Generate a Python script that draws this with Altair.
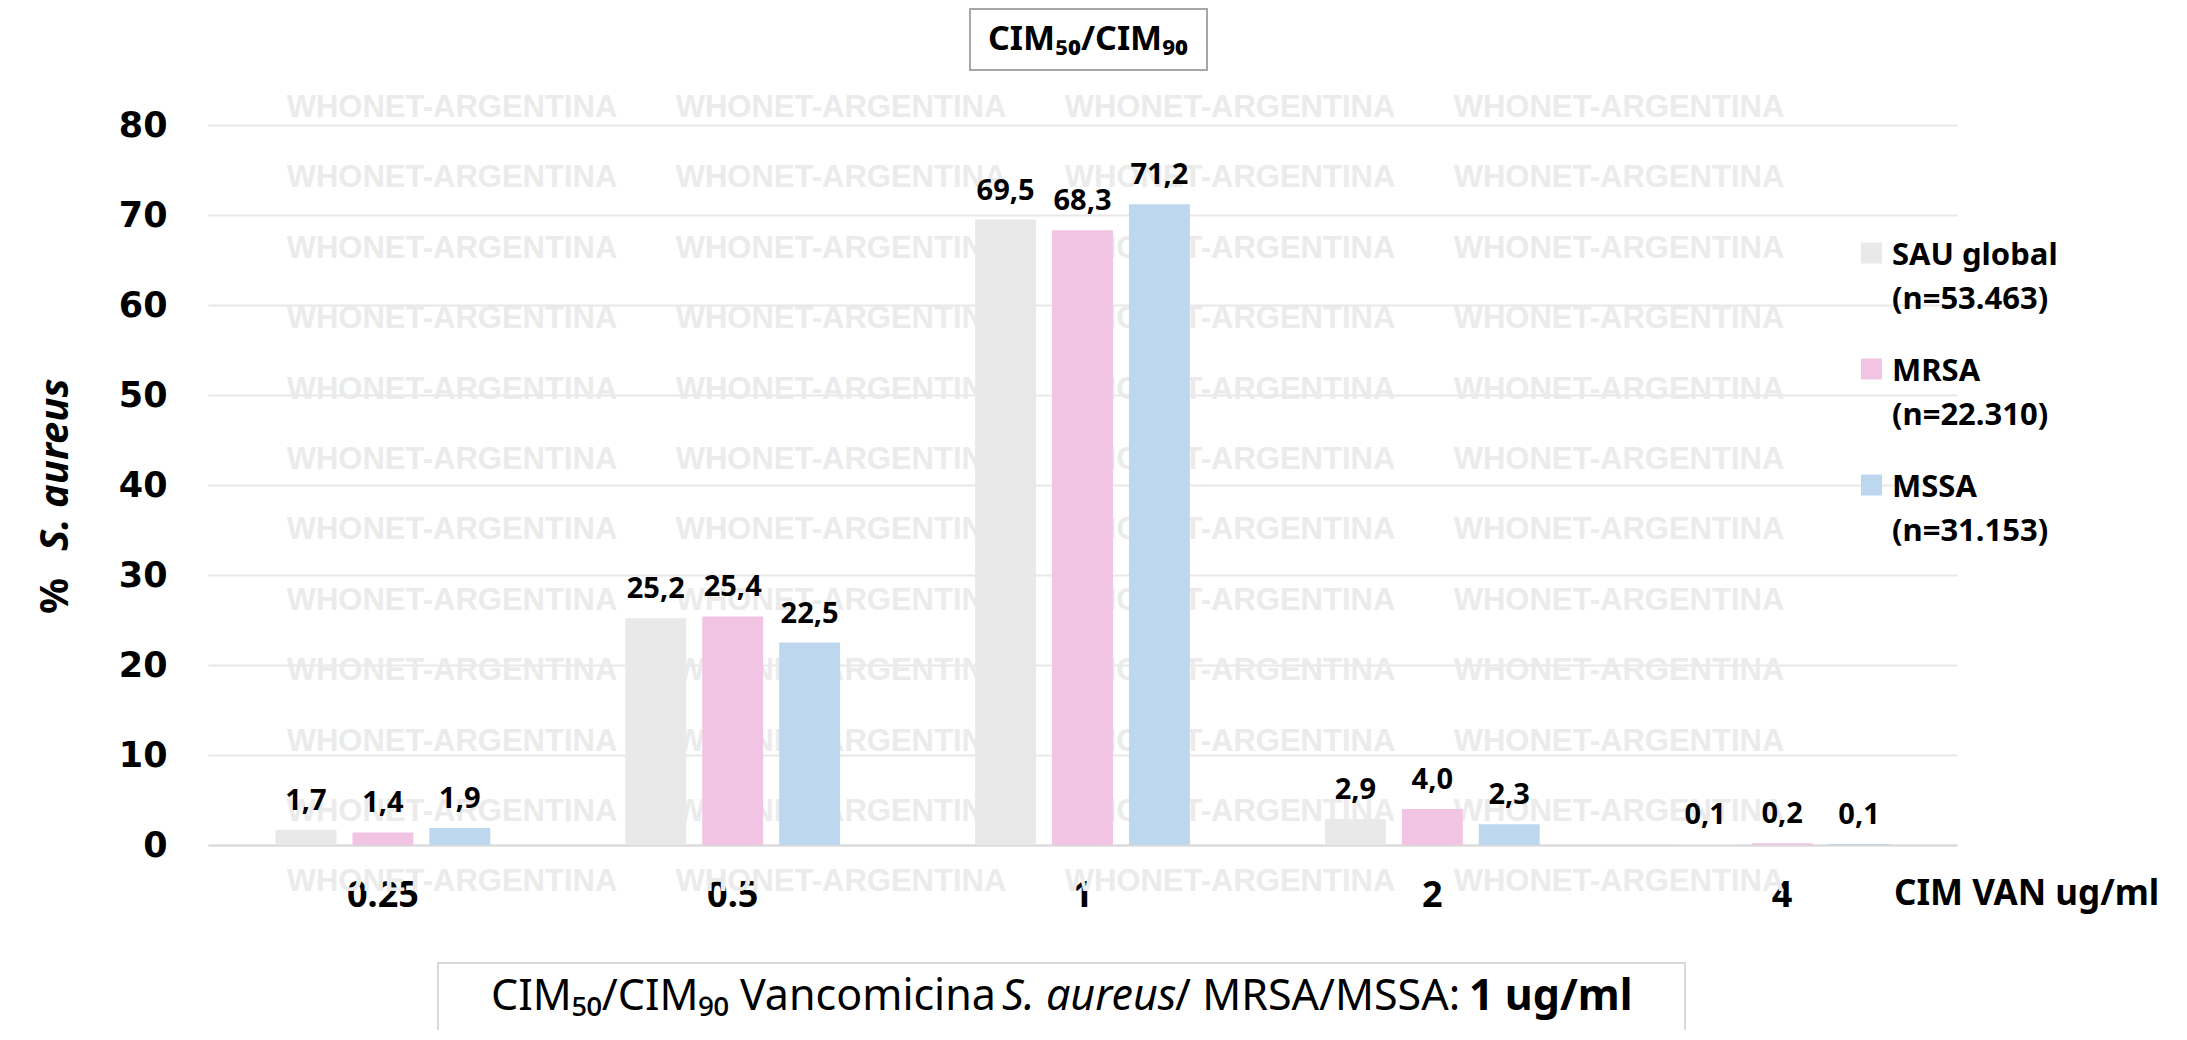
import altair as alt
import pandas as pd

# ---------------- data ----------------
categories = ["0.25", "0.5", "1", "2", "4"]
series = ["SAU global", "MRSA", "MSSA"]
series_n = ["(n=53.463)", "(n=22.310)", "(n=31.153)"]
sau_global = [1.7, 25.2, 69.5, 2.9, 0.1]
mrsa = [1.4, 25.4, 68.3, 4.0, 0.2]
mssa = [1.9, 22.5, 71.2, 2.3, 0.1]
y_ticks = [0, 10, 20, 30, 40, 50, 60, 70, 80]
colors = ["#e9e9e9", "#f2c4e4", "#bdd7ee"]

title_text = "CIM\u2085\u2080/CIM\u2089\u2080"
x_title = "CIM VAN ug/ml"
y_title_a = "%"
y_title_b = "S. aureus"
foot_a = "CIM\u2085\u2080/CIM\u2089\u2080 Vancomicina"
foot_b = "S. aureus"
foot_c = "/ MRSA/MSSA:"
foot_d = "1 ug/ml"
watermark_text = "WHONET-ARGENTINA"

rows = []
for s, vals in zip(series, [sau_global, mrsa, mssa]):
    for c, v in zip(categories, vals):
        rows.append({"cim": c, "serie": s, "value": v,
                     "label": f"{v:.1f}".replace(".", ",")})
df = pd.DataFrame(rows)

leg_df = pd.DataFrame({"serie": series, "n": series_n, "idx": list(range(len(series)))})

# watermark grid (decoration, pixel positions inside the plot area)
wm_x = [244, 633, 1022, 1411]
wm_y = [-17 + round(70.4 * k) for k in range(12)]
wm_df = pd.DataFrame([{"wx": x, "wy": y, "t": watermark_text} for y in wm_y for x in wm_x])

one = pd.DataFrame({"k": [0]})

FONT = "Noto Sans"
W, H = 1749, 720

color_scale = alt.Scale(domain=series, range=colors)

x_enc = alt.X(
    "cim:N", sort=categories,
    scale=alt.Scale(paddingInner=0.386, paddingOuter=0.193),
    axis=alt.Axis(title=None, labelAngle=0, labelFont=FONT, labelFontWeight="bold",
                  labelFontSize=36, labelColor="black", labelPadding=33,
                  ticks=False, tickSize=0, domainColor="#d9d9d9", domainWidth=2,
                  grid=False),
)
xoff = alt.XOffset("serie:N", sort=series,
                   scale=alt.Scale(paddingInner=0.208, paddingOuter=0))
y_enc = alt.Y(
    "value:Q", scale=alt.Scale(domain=[0, 80], nice=False),
    axis=alt.Axis(title=None, values=y_ticks, labelFont="DejaVu Sans",
                  labelFontWeight="bold", labelFontSize=35, labelColor="black",
                  labelPadding=41, ticks=False, tickSize=0, domain=False,
                  gridColor="#e8e8e8", gridWidth=2),
)

watermark = alt.Chart(wm_df).mark_text(
    font="Liberation Sans", fontWeight="bold", fontSize=31, color="#ebebeb",
    align="center", baseline="middle"
).encode(
    x=alt.X("wx:Q", scale=None, axis=None),
    y=alt.Y("wy:Q", scale=None, axis=None),
    text="t:N",
)

bars = alt.Chart(df).mark_bar().encode(
    x=x_enc, xOffset=xoff, y=y_enc,
    color=alt.Color("serie:N", scale=color_scale, legend=None),
)

labels = alt.Chart(df).mark_text(
    font=FONT, fontWeight="bold", fontSize=29, color="black",
    baseline="alphabetic", dy=-20
).encode(x=x_enc, xOffset=xoff, y=y_enc, text="label:N")

# ---- manual legend ----
leg_sq = alt.Chart(leg_df).mark_square(size=441, opacity=1).transform_calculate(
    ly="128 + 116 * datum.idx"
).encode(
    x=alt.value(1663.5),
    y=alt.Y("ly:Q", scale=None, axis=None),
    color=alt.Color("serie:N", scale=color_scale, legend=None),
)
leg_t1 = alt.Chart(leg_df).mark_text(
    font=FONT, fontWeight="bold", fontSize=31, color="black",
    align="left", baseline="alphabetic"
).transform_calculate(ly="140 + 116 * datum.idx").encode(
    x=alt.value(1684), y=alt.Y("ly:Q", scale=None, axis=None), text="serie:N")
leg_t2 = alt.Chart(leg_df).mark_text(
    font=FONT, fontWeight="bold", fontSize=31, color="black",
    align="left", baseline="alphabetic"
).transform_calculate(ly="184 + 116 * datum.idx").encode(
    x=alt.value(1684), y=alt.Y("ly:Q", scale=None, axis=None), text="n:N")

# ---- axis titles ----
xtitle = alt.Chart(one).mark_text(
    font=FONT, fontWeight="bold", fontSize=35, color="black",
    align="left", baseline="alphabetic", text=x_title
).encode(x=alt.value(1686), y=alt.value(780))

ytitle_a = alt.Chart(one).mark_text(
    font=FONT, fontWeight="bold", fontSize=40, color="black",
    align="left", baseline="middle", angle=270, text=y_title_a
).encode(x=alt.value(-152), y=alt.value(489))
ytitle_b = alt.Chart(one).mark_text(
    font=FONT, fontWeight="bold", fontStyle="italic", fontSize=40, color="black",
    align="left", baseline="middle", angle=270, text=y_title_b
).encode(x=alt.value(-152), y=alt.value(426))

# ---- top title box ----
title_box = alt.Chart(one).mark_rect(
    fill="white", stroke="#a6a6a6", strokeWidth=2
).encode(x=alt.value(762), x2=alt.value(999), y=alt.value(-116), y2=alt.value(-55))
title_txt = alt.Chart(one).mark_text(
    font=FONT, fontWeight="bold", fontSize=34, color="black",
    align="center", baseline="alphabetic", text=title_text
).encode(x=alt.value(880), y=alt.value(-75))

# ---- footer box ----
foot_box = alt.Chart(one).mark_rect(
    fill="white", stroke="#d9d9d9", strokeWidth=2
).encode(x=alt.value(230), x2=alt.value(1477), y=alt.value(838), y2=alt.value(960))
FS = 43
FOOT_Y = 885
foot1 = alt.Chart(one).mark_text(
    font=FONT, fontSize=FS, color="black", align="left", baseline="alphabetic",
    text=foot_a).encode(x=alt.value(283), y=alt.value(FOOT_Y))
foot2 = alt.Chart(one).mark_text(
    font=FONT, fontStyle="italic", fontSize=FS, color="black", align="left",
    baseline="alphabetic", text=foot_b).encode(x=alt.value(794), y=alt.value(FOOT_Y))
foot3 = alt.Chart(one).mark_text(
    font=FONT, fontSize=FS, color="black", align="left", baseline="alphabetic",
    text=foot_c).encode(x=alt.value(967), y=alt.value(FOOT_Y))
foot4 = alt.Chart(one).mark_text(
    font=FONT, fontWeight="bold", fontSize=FS, color="black", align="left",
    baseline="alphabetic", text=foot_d).encode(x=alt.value(1261), y=alt.value(FOOT_Y))

chart = alt.layer(
    watermark, bars, labels, leg_sq, leg_t1, leg_t2, xtitle, ytitle_a, ytitle_b,
    title_box, title_txt, foot_box, foot1, foot2, foot3, foot4,
).properties(
    width=W, height=H,
    padding={"left": 200, "top": 117, "right": 222, "bottom": 185},
    autosize=alt.AutoSizeParams(type="none"),
    background="white",
).configure_view(stroke=None)

chart.save("out.html", embed_options={"renderer": "svg", "actions": False})
